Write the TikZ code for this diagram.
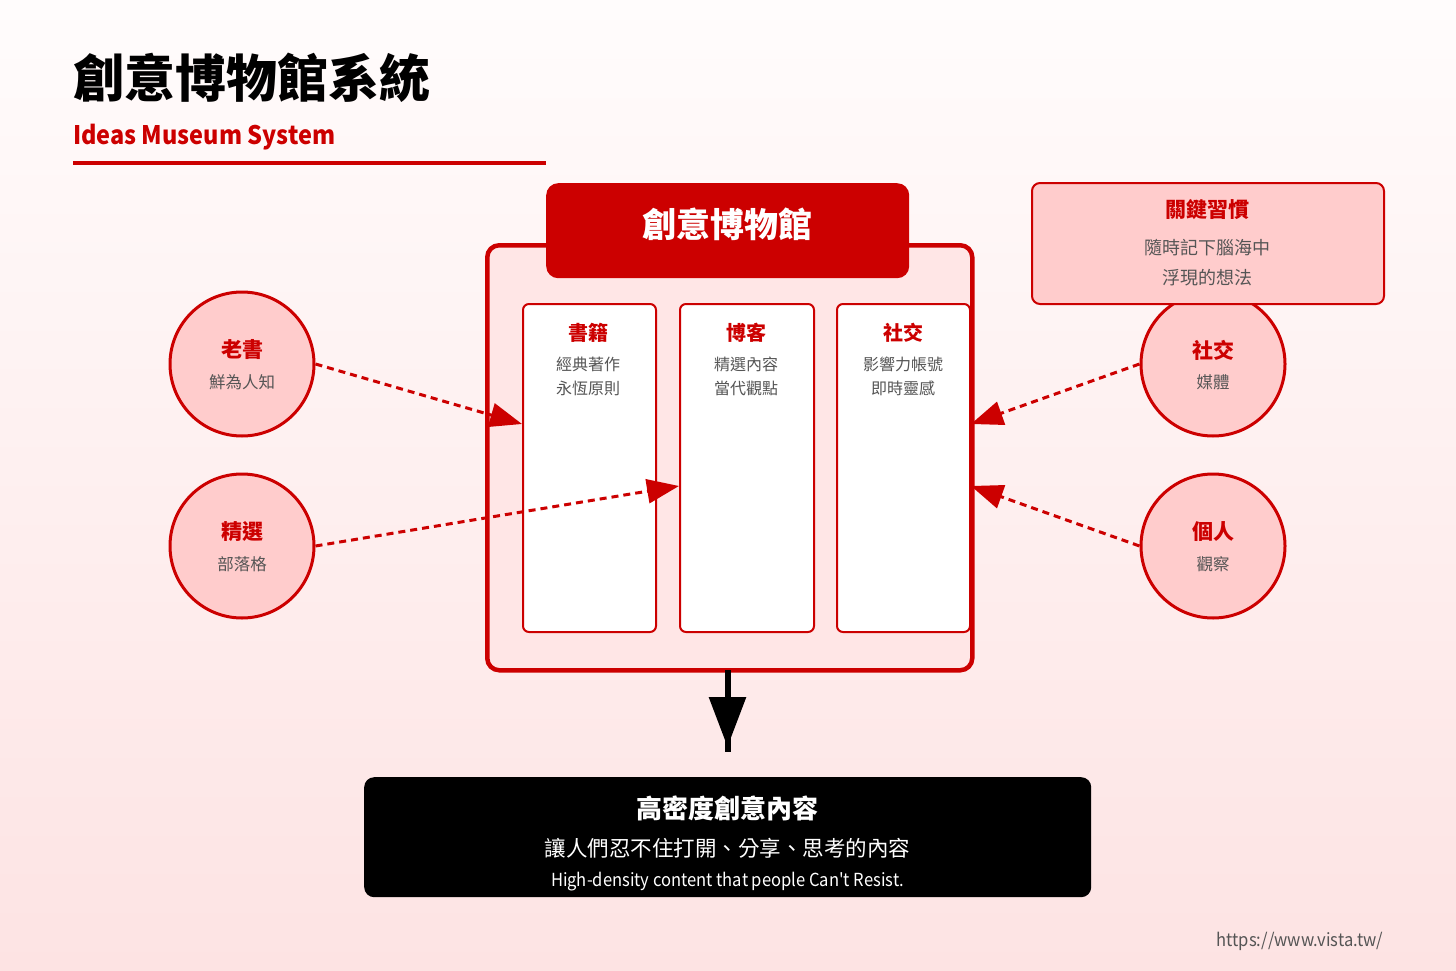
\documentclass[tikz,border=0pt]{standalone}
\usepackage{fontspec}
\setmainfont{Noto Sans CJK TC}
\newfontfamily\latn{Noto Sans CJK TC}[FakeStretch=0.92]
\usetikzlibrary{arrows.meta}
\definecolor{mred}{HTML}{CC0000}
\definecolor{pinkfill}{HTML}{FFCCCC}
\definecolor{contfill}{HTML}{FFE6E6}
\definecolor{txtgray}{HTML}{555555}
\definecolor{bgtop}{HTML}{FFFCFC}
\definecolor{bgbot}{HTML}{FDE3E3}
\begin{document}
\begin{tikzpicture}[x=1pt,y=-1pt,
  txt/.style={inner sep=0pt, outer sep=0pt},
  circ/.style={circle, draw=mred, line width=3pt, fill=pinkfill, minimum size=144pt, inner sep=0pt},
  colbox/.style={draw=mred, line width=2pt, fill=white, rounded corners=6pt, minimum height=328pt, anchor=north west, inner sep=0pt},
  ctitle/.style={txt, text=mred, font=\fontsize{20}{24}\selectfont\bfseries},
  cline/.style={txt, text=txtgray, font=\fontsize{16}{20}\selectfont},
  rtitle/.style={txt, text=mred, font=\fontsize{21}{25}\selectfont\bfseries},
  rline/.style={txt, text=txtgray, font=\fontsize{16.5}{20}\selectfont},
  darr/.style={draw=mred, line width=3pt, dash pattern=on 7pt off 5pt, -{Triangle[length=32pt,width=24pt]}},
]
\shade[top color=bgtop, bottom color=bgbot] (0,0) rectangle (1456,971);
\useasboundingbox (0,0) rectangle (1456,971);

% title
\node[txt, anchor=west, font=\fontsize{51}{60}\selectfont\bfseries] (title) at (73,78) {創意博物館系統};
\node[txt, anchor=base west, text=mred, font=\latn\fontsize{25.5}{30}\selectfont\bfseries] (subtitle) at (73,145) {Ideas Museum System};
\draw[mred, line width=4pt] (73,163) coordinate (ul1) -- (546,163) coordinate (ul2);

% main container
\node[draw=mred, line width=4.5pt, fill=contfill, rounded corners=12pt, minimum width=485pt, minimum height=425pt, anchor=north west, inner sep=0pt] (main) at (485,243) {};
\node[fill=mred, rounded corners=12pt, minimum width=363pt, minimum height=95pt, anchor=north west, inner sep=0pt] (hdr) at (546,183) {};
\node[txt, text=white, font=\fontsize{34}{40}\selectfont\bfseries] (hdrtext) at (727.5,224) {創意博物館};

% columns
\node[colbox, minimum width=133pt] (b1) at (522,303) {};
\node[colbox, minimum width=134pt] (b2) at (679,303) {};
\node[colbox, minimum width=133pt] (b3) at (836,303) {};
\node[ctitle] (b1t) at (588,333) {書籍};
\node[cline] (b1a) at (588,364) {經典著作};
\node[cline] (b1b) at (588,388) {永恆原則};
\node[ctitle] (b2t) at (746,333) {博客};
\node[cline] (b2a) at (746,364) {精選內容};
\node[cline] (b2b) at (746,388) {當代觀點};
\node[ctitle] (b3t) at (903,333) {社交};
\node[cline] (b3a) at (903,364) {影響力帳號};
\node[cline] (b3b) at (903,388) {即時靈感};

% circles
\node[circ] (c1) at (242,364) {};
\node[rtitle] (c1t) at (242,350) {老書};
\node[rline] (c1s) at (242,382) {鮮為人知};
\node[circ] (c2) at (242,546) {};
\node[rtitle] (c2t) at (242,532) {精選};
\node[rline] (c2s) at (242,564) {部落格};
\node[circ] (c3) at (1213,364) {};
\node[rtitle] (c3t) at (1213,350) {社交};
\node[rline] (c3s) at (1213,382) {媒體};
\node[circ] (c4) at (1213,546) {};
\node[rtitle] (c4t) at (1213,532) {個人};
\node[rline] (c4s) at (1213,564) {觀察};

% key habit box
\node[draw=mred, line width=2pt, fill=pinkfill, rounded corners=8pt, minimum width=352pt, minimum height=121pt, anchor=north west, inner sep=0pt] (key) at (1031,182) {};
\node[rtitle] (keyt) at (1207,210) {關鍵習慣};
\node[txt, text=txtgray, font=\fontsize{18}{22}\selectfont] (keya) at (1207,248) {隨時記下腦海中};
\node[txt, text=txtgray, font=\fontsize{18}{22}\selectfont] (keyb) at (1207,278) {浮現的想法};

% dashed arrows
\draw[darr] (c1.east) -- ([yshift=-121pt]b1.north west);
\draw[darr] (c2.east) -- ([yshift=-183pt]b2.north west);
\draw[darr] (c3.west) -- ([yshift=-121pt]b3.north east);
\draw[darr] (c4.west) -- ([yshift=-183pt]b3.north east);

% output
\node[fill=black, rounded corners=10pt, minimum width=727pt, minimum height=120pt, anchor=north west, inner sep=0pt] (out) at (364,777) {};
\node[txt, text=white, font=\fontsize{26}{30}\selectfont\bfseries] (outt) at (727.5,808) {高密度創意內容};
\node[txt, text=white, font=\fontsize{21.5}{26}\selectfont] (outa) at (727.5,848) {讓人們忍不住打開、分享、思考的內容};
\node[txt, anchor=base, text=white, font=\latn\fontsize{18}{22}\selectfont] (outb) at (727.5,886) {High-density content that people Can\char39 t Resist.};
\coordinate (arrtop) at (727.5,670);
\coordinate (arrtip) at (727.5,747);
\coordinate (arrend) at (727.5,752);
\draw[black, line width=6pt, -{Triangle[length=50pt,width=36pt]}] (arrtop) -- (arrtip);
\draw[black, line width=6pt] (arrtip) ++(0,-12) -- (arrend);

\node[txt, anchor=base east, text=txtgray, font=\latn\fontsize{18}{22}\selectfont] (url) at (1383,946) {https://www.vista.tw/};
\end{tikzpicture}
\end{document}
